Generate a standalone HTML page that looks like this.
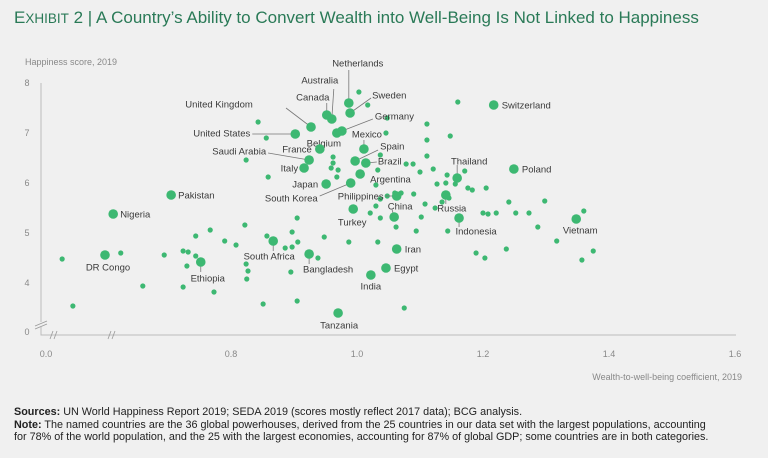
<!DOCTYPE html>
<html><head><meta charset="utf-8"><style>
body{margin:0;background:#f0f0f0;font-family:"Liberation Sans",sans-serif;}
#wrap{position:relative;width:768px;height:458px;background:#f0f0f0;overflow:hidden}
.title{position:absolute;left:14px;top:8px;font-size:17px;color:#2a7a57;white-space:nowrap}
.foot{position:absolute;left:14px;top:406px;font-size:10.8px;line-height:12.5px;color:#222;width:745px}
</style></head><body>
<div id="wrap">
<div class="title">E<span style="font-size:13.5px">XHIBIT</span> 2 | A Country’s Ability to Convert Wealth into Well-Being Is Not Linked to Happiness</div>
<svg id="chart" width="768" height="458" style="position:absolute;left:0;top:0"></svg>
<div class="foot"><b>Sources:</b> UN World Happiness Report 2019; SEDA 2019 (scores mostly reflect 2017 data); BCG analysis.<br><b>Note:</b> The named countries are the 36 global powerhouses, derived from the 25 countries in our data set with the largest populations, accounting<br>for 78% of the world population, and the 25 with the largest economies, accounting for 87% of global GDP; some countries are in both categories.</div>
</div>
<script>
const xTicks=[0.8,1.0,1.2,1.4,1.6];
const xTickLabels=["0.8","1.0","1.2","1.4","1.6"];
const yTicks=[4,5,6,7,8];
const yTickLabels=["4","5","6","7","8"];
const namedCountries=["Netherlands","Sweden","Canada","Australia","United Kingdom","United States","Germany","Belgium","Mexico","France","Spain","Brazil","Argentina","Italy","Saudi Arabia","Japan","South Korea","Philippines","Turkey","China","Russia","Thailand","Poland","Switzerland","Indonesia","Vietnam","Iran","Egypt","India","Tanzania","Bangladesh","South Africa","Ethiopia","DR Congo","Nigeria","Pakistan"];
const namedX=[0.987,0.989,0.952,0.960,0.927,0.902,0.976,0.968,1.011,0.941,0.997,1.014,1.005,0.916,0.924,0.951,0.990,1.063,0.994,1.059,1.141,1.159,1.249,1.217,1.162,1.348,1.063,1.046,1.022,0.970,0.924,0.867,0.752,0.600,0.613,0.705];
const namedY=[7.60,7.40,7.36,7.28,7.12,6.98,7.04,7.00,6.68,6.68,6.44,6.40,6.18,6.30,6.46,5.98,6.00,5.74,5.48,5.32,5.76,6.10,6.28,7.56,5.30,5.28,4.68,4.30,4.16,3.40,4.58,4.84,4.42,4.56,5.38,5.76];
const otherX=[0.532,0.549,0.625,0.660,0.694,0.724,0.732,0.744,0.730,0.724,0.767,0.744,0.790,0.808,0.822,0.825,0.824,0.827,0.773,0.851,0.857,0.886,0.897,0.906,0.895,0.905,0.897,0.905,0.938,0.948,0.987,1.033,1.021,1.030,1.037,1.111,1.078,1.089,1.100,1.121,1.143,1.141,1.127,1.156,1.171,1.048,1.060,1.090,1.070,1.108,1.124,1.135,1.176,1.183,1.205,1.208,1.221,1.200,1.241,1.298,1.102,1.146,1.094,1.062,1.144,1.252,1.273,1.287,1.317,1.360,1.375,1.357,1.237,1.189,1.203,1.075,1.037,1.003,1.017,1.160,1.111,0.843,0.856,1.048,1.046,1.148,0.824,0.962,0.959,0.970,0.962,0.859,0.968,1.030,1.037,1.111,1.033];
const otherY=[4.48,3.54,4.60,3.94,4.56,4.64,4.62,4.54,4.34,3.92,5.06,4.94,4.84,4.76,5.16,4.08,4.38,4.24,3.82,3.58,4.94,4.70,4.72,4.82,4.22,5.30,5.02,3.64,4.50,4.92,4.82,4.82,5.40,5.54,5.68,6.54,6.38,6.38,6.22,6.28,6.16,6.00,5.98,5.98,6.24,5.74,5.80,5.78,5.80,5.58,5.50,5.62,5.90,5.86,5.90,5.38,5.40,5.40,5.62,5.64,5.32,5.70,5.04,5.12,5.04,5.40,5.40,5.12,4.84,5.44,4.64,4.46,4.68,4.60,4.50,3.50,5.30,7.82,7.56,7.62,7.18,7.22,6.90,7.30,7.00,6.94,6.46,6.52,6.30,6.26,6.40,6.12,6.12,5.96,6.56,6.86,6.26];
const labelLayout={
"Netherlands":[9,-40,"middle",0,-33],"Sweden":[22,-18,"start",21,-15],"Canada":[-14,-18,"middle",0,-12],
"Australia":[-12,-39,"middle",2,-30],"United Kingdom":[-92,-23,"middle",-25,-19],"United States":[-45,-1,"end",-43,0],
"Germany":[33,-15,"start",31,-12],"Belgium":[-13,10,"middle",null,null],"Mexico":[3,-15,"middle",0,-9],
"France":[-8,0,"end",null,null],"Spain":[25,-15,"start",23,-11],"Brazil":[12,-2,"start",11,-1],
"Argentina":[10,5,"start",null,null],"Italy":[-6,0,"end",null,null],"Saudi Arabia":[-43,-9,"end",-41,-7],
"Japan":[-8,0,"end",null,null],"South Korea":[-33,15,"end",-31,13],"Philippines":[-13,0,"end",-11,0],
"Turkey":[-1,13,"middle",null,null],"China":[6,-11,"middle",-2,-7],"Russia":[6,13,"middle",0,9],
"Thailand":[12,-17,"middle",0,-13],"Poland":[8,0,"start",null,null],"Switzerland":[8,0,"start",null,null],
"Indonesia":[17,13,"middle",0,9],"Vietnam":[4,11,"middle",null,null],"Iran":[8,0,"start",null,null],
"Egypt":[8,0,"start",null,null],"India":[0,11,"middle",null,null],"Tanzania":[1,12,"middle",null,null],
"Bangladesh":[19,15,"middle",0,10],"South Africa":[-4,15,"middle",0,10],"Ethiopia":[7,16,"middle",0,10],
"DR Congo":[3,12,"middle",null,null],"Nigeria":[7,0,"start",null,null],"Pakistan":[7,0,"start",null,null]};
const svg=document.getElementById('chart');
const NS='http://www.w3.org/2000/svg';
function xs(v){return 357+(v-1)*630;}
function ys(v){return 233-(v-5)*50;}
function mk(t,a){const e=document.createElementNS(NS,t);for(const k in a)e.setAttribute(k,a[k]);svg.appendChild(e);return e;}
let ax=mk('path',{d:'M41,83 V322 M41,327 V335 H736',stroke:'#bbb','stroke-width':1,fill:'none'});


let br=mk('path',{d:'M35,326 L47,321 M35,329 L47,324 M50,339 L53,331 M54,339 L57,331 M108,339 L111,331 M112,339 L115,331',stroke:'#999','stroke-width':0.8,fill:'none'});


function txt(x,y,s,o){const e=mk('text',Object.assign({x:x,y:y,'font-size':9,fill:'#888','font-family':'Liberation Sans, sans-serif'},o||{}));e.textContent=s;return e;}
let yt=txt(25,65,'Happiness score, 2019');
let xt=txt(742,380,'Wealth-to-well-being coefficient, 2019',{'text-anchor':'end'});
let z=txt(27,335,'0',{'text-anchor':'middle'});
let z2=txt(46,357,'0.0',{'text-anchor':'middle'});
xTicks.forEach((v,i)=>{const e=txt(xs(v),357,xTickLabels[i],{'text-anchor':'middle'});

});
yTicks.forEach((v,i)=>{const e=txt(27,ys(v)+3,yTickLabels[i],{'text-anchor':'middle'});

});
otherX.forEach((v,i)=>{const c=mk('circle',{cx:xs(v),cy:ys(otherY[i]),r:2.6,fill:'#3db872'});

});
namedCountries.forEach((n,i)=>{const px=xs(namedX[i]),py=ys(namedY[i]);const L=labelLayout[n];
if(L[3]!==null){const l=mk('line',{x1:px+L[3],y1:py+L[4],x2:px,y2:py,stroke:'#777','stroke-width':0.8});

}
const c=mk('circle',{cx:px,cy:py,r:4.8,fill:'#3db872'});


const t=txt(px+L[0],py+L[1]+3.5,n,{'text-anchor':L[2],fill:'#3a3a3a','font-size':9.5});

});
</script>
</body></html>
